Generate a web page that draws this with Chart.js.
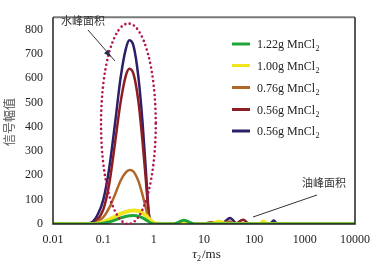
<!DOCTYPE html>
<html>
<head>
<meta charset="utf-8">
<script src="https://cdn.jsdelivr.net/npm/chart.js@4.4.1/dist/chart.umd.min.js"></script>
<style>
  html, body { margin: 0; padding: 0; background: #fff; }
  #wrap { width: 379px; height: 264px; }
</style>
</head>
<body>
<div id="wrap"><canvas id="t2-chart" width="379" height="264"></canvas></div>
<script>
// T2 spectra, signal amplitude vs relaxation time (ms)
const tauGreen = [0.01, 0.08, 0.1, 0.13, 0.17, 0.22, 0.28, 0.33, 0.4, 0.5, 0.6, 0.7, 0.8, 0.9, 1.0, 2.5, 4, 6.5, 10000];
const ampGreen = [0, 0, 3, 8, 16, 25, 31, 34, 35, 32, 25, 17, 9, 3, 0, 0, 15, 0, 0];

const tauYellow = [0.01, 0.07, 0.1, 0.13, 0.17, 0.22, 0.28, 0.33, 0.4, 0.5, 0.6, 0.7, 0.8, 0.9, 1.0, 1.2, 1.5, 14, 20, 27, 130, 150, 178, 10000];
const ampYellow = [0, 0, 8, 18, 30, 42, 50, 54, 56, 54, 45, 35, 22, 12, 5, 1, 0, 0, 9, 0, 0, 10, 0, 0];

const tauBrown = [0.01, 0.05, 0.07, 0.1, 0.13, 0.17, 0.22, 0.28, 0.33, 0.4, 0.5, 0.6, 0.7, 0.8, 0.9, 10, 15, 22, 32, 45, 10000];
const ampBrown = [0, 0, 5, 28, 65, 120, 178, 212, 222, 215, 175, 120, 65, 20, 0, 0, 7, 3, 10, 0, 0];

const tauRed = [0.01, 0.05, 0.07, 0.1, 0.13, 0.17, 0.22, 0.28, 0.33, 0.4, 0.5, 0.6, 0.7, 0.8, 0.9, 9, 14, 20, 40, 60, 80, 10000];
const ampRed = [0, 0, 10, 60, 160, 330, 500, 610, 638, 615, 500, 340, 180, 40, 0, 0, 7, 0, 0, 17, 0, 0];

const tauBlue = [0.01, 0.04, 0.06, 0.08, 0.1, 0.13, 0.17, 0.22, 0.28, 0.33, 0.4, 0.5, 0.6, 0.7, 0.8, 0.9, 22, 33, 46, 200, 244, 285, 10000];
const ampBlue = [0, 0, 8, 45, 100, 225, 410, 600, 720, 755, 730, 600, 420, 220, 45, 0, 0, 25, 0, 0, 14, 0, 0];

const seriesLabels = ["1.22g MnCl₂", "1.00g MnCl₂", "0.76g MnCl₂", "0.56g MnCl₂", "0.56g MnCl₂"];
const seriesColors = ["#1fa63a", "#f1e51e", "#b0682a", "#8c1d22", "#2d1f68"];

const xTicks = [0.01, 0.1, 1, 10, 100, 1000, 10000];
const yTicks = [0, 100, 200, 300, 400, 500, 600, 700, 800];

// water-peak ellipse (tau range and top value) and labels
const ellipseTau = [0.09, 1.1];
const ellipseTop = 824;
const waterLabel = "水峰面积";
const oilLabel = "油峰面积";
const yTitle = "信号幅值";

const serif = "'Liberation Serif', 'Times New Roman', serif";
const cjk = "'Noto Sans CJK SC', sans-serif";

function pts(xs, ys) {
  return xs.map((x, i) => ({ x: x, y: ys[i] }));
}

const extras = {
  id: "extras",
  afterDraw(chart) {
    const ctx = chart.ctx;
    const a = chart.chartArea;
    const xs = chart.scales.x, ys = chart.scales.y;
    ctx.save();

    // frame
    ctx.strokeStyle = "#7a7a7a";
    ctx.lineWidth = 2;
    ctx.beginPath();
    ctx.moveTo(a.left, a.top); ctx.lineTo(a.right, a.top);
    ctx.stroke();
    ctx.strokeStyle = "#222";
    ctx.lineWidth = 1.5;
    ctx.beginPath();
    ctx.moveTo(a.right, a.top); ctx.lineTo(a.right, a.bottom);
    ctx.lineTo(a.left, a.bottom); ctx.lineTo(a.left, a.top);
    ctx.stroke();

    // dotted ellipse round the water peak
    const l = xs.getPixelForValue(ellipseTau[0]);
    const r = xs.getPixelForValue(ellipseTau[1]);
    const t = ys.getPixelForValue(ellipseTop);
    const b = ys.getPixelForValue(0);
    ctx.strokeStyle = "#b3124f";
    ctx.lineWidth = 2.6;
    ctx.lineCap = "round";
    ctx.setLineDash([0, 4.6]);
    ctx.beginPath();
    ctx.ellipse((l + r) / 2, (t + b) / 2, (r - l) / 2, (b - t) / 2, 0, 0, Math.PI * 2);
    ctx.stroke();
    ctx.setLineDash([]);
    ctx.lineCap = "butt";

    // annotation texts and pointers
    ctx.fillStyle = "#333";
    ctx.font = "11px " + cjk;
    ctx.textBaseline = "middle";
    ctx.textAlign = "left";
    ctx.fillText(waterLabel, 61, 21);
    ctx.fillText(oilLabel, 302, 183);

    ctx.strokeStyle = "#333";
    ctx.lineWidth = 1;
    ctx.beginPath();
    ctx.moveTo(88, 30); ctx.lineTo(115, 61);
    ctx.moveTo(317, 195); ctx.lineTo(253, 217);
    ctx.stroke();
    // arrow head
    const ang = Math.atan2(61 - 30, 115 - 88);
    const hx = 111, hy = 57;
    ctx.fillStyle = "#2a2a4a";
    ctx.beginPath();
    ctx.moveTo(hx, hy);
    ctx.lineTo(hx - 8 * Math.cos(ang - 0.35), hy - 8 * Math.sin(ang - 0.35));
    ctx.lineTo(hx - 8 * Math.cos(ang + 0.35), hy - 8 * Math.sin(ang + 0.35));
    ctx.closePath();
    ctx.fill();

    // legend
    const rowsY = [44, 65.5, 87.5, 109.5, 131];
    chart.data.datasets.forEach((ds, i) => {
      const y = rowsY[i];
      ctx.strokeStyle = ds.borderColor;
      ctx.lineWidth = 3;
      ctx.beginPath();
      ctx.moveTo(232, y); ctx.lineTo(250, y);
      ctx.stroke();
      const parts = ds.label.split("₂");
      ctx.fillStyle = "#222";
      ctx.font = "12px " + serif;
      ctx.textBaseline = "alphabetic";
      ctx.fillText(parts[0], 257, y + 4);
      const w = ctx.measureText(parts[0]).width;
      ctx.font = "8px " + serif;
      ctx.fillText("2", 257 + w + 0.5, y + 7);
    });

    // axis titles
    ctx.fillStyle = "#222";
    ctx.textBaseline = "alphabetic";
    ctx.font = "italic 13px " + serif;
    const w1 = ctx.measureText("τ").width;
    ctx.font = "8px " + serif;
    const w2 = ctx.measureText("2").width;
    ctx.font = "13px " + serif;
    const w3 = ctx.measureText("/ms").width;
    let x0 = 206 - (w1 + w2 + w3) / 2;
    ctx.font = "italic 13px " + serif;
    ctx.fillText("τ", x0, 258);
    ctx.font = "8px " + serif;
    ctx.fillText("2", x0 + w1, 261);
    ctx.font = "13px " + serif;
    ctx.fillText("/ms", x0 + w1 + w2 + 1, 258);

    ctx.translate(9, 122);
    ctx.rotate(-Math.PI / 2);
    ctx.textAlign = "center";
    ctx.textBaseline = "middle";
    ctx.fillStyle = "#555";
    ctx.font = "12px " + cjk;
    ctx.fillText(yTitle, 0, 0);
    ctx.restore();
  }
};

const tauSets = [tauGreen, tauYellow, tauBrown, tauRed, tauBlue];
const ampSets = [ampGreen, ampYellow, ampBrown, ampRed, ampBlue];
const widths = [3, 4, 2.5, 2.5, 2.5];

new Chart(document.getElementById("t2-chart"), {
  type: "line",
  data: {
    datasets: seriesLabels.map((label, i) => ({
      label: label,
      data: pts(tauSets[i], ampSets[i]),
      borderColor: seriesColors[i],
      borderWidth: widths[i],
      pointRadius: 0,
      fill: false,
      cubicInterpolationMode: "monotone"
    }))
  },
  options: {
    responsive: false,
    animation: false,
    layout: { padding: { top: 2, right: 17, left: 0, bottom: 0 } },
    plugins: { legend: { display: false }, tooltip: { enabled: false } },
    scales: {
      x: {
        type: "logarithmic",
        min: 0.01,
        max: 10000,
        grid: { display: false, drawTicks: false },
        border: { display: false },
        afterBuildTicks: (s) => { s.ticks = xTicks.map(v => ({ value: v })); },
        afterFit: (s) => { s.height = 40; },
        ticks: {
          padding: 9,
          maxRotation: 0,
          autoSkip: false,
          color: "#222",
          font: { family: serif, size: 12 },
          callback: (v) => String(v)
        }
      },
      y: {
        min: 0,
        max: 850,
        grid: { display: false, drawTicks: false },
        border: { display: false },
        afterBuildTicks: (s) => { s.ticks = yTicks.map(v => ({ value: v })); },
        afterFit: (s) => { s.width = 53; },
        ticks: {
          padding: 10,
          color: "#222",
          font: { family: serif, size: 12 }
        }
      }
    }
  },
  plugins: [extras]
});
</script>
</body>
</html>
